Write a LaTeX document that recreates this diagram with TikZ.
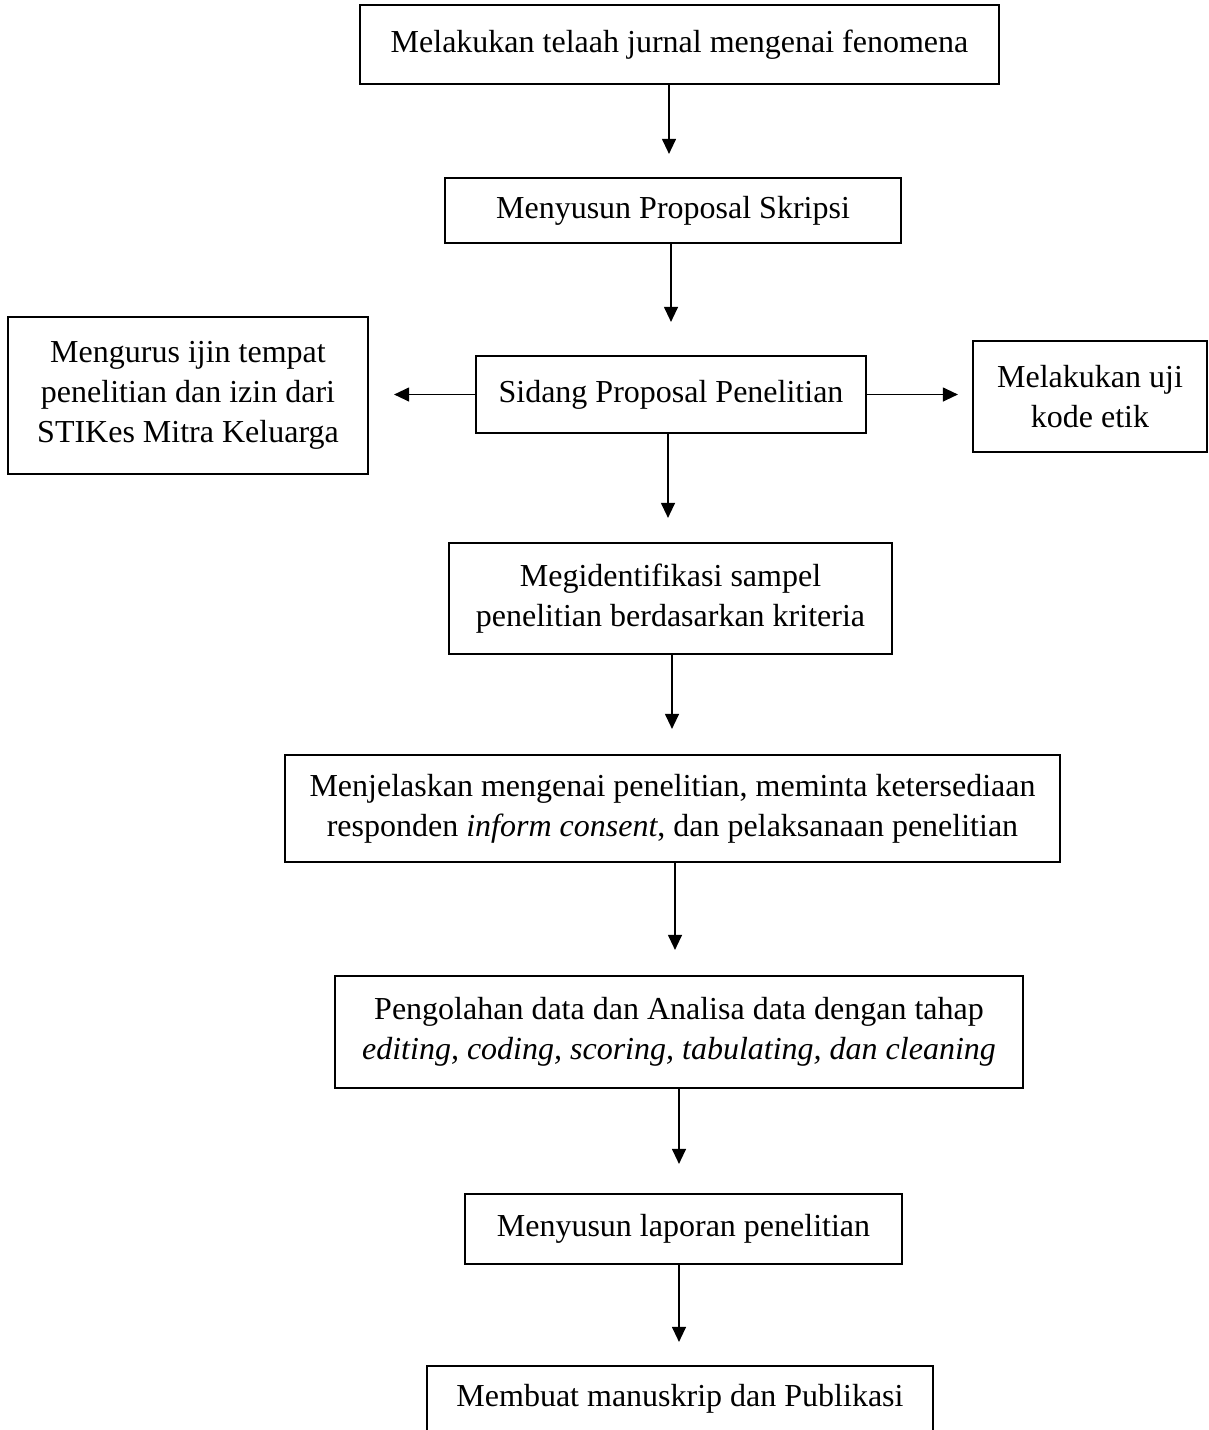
\documentclass[tikz,border=0pt]{standalone}
\usepackage{fontspec}
\setmainfont[Ligatures=CommonOff]{Liberation Serif}
\usetikzlibrary{arrows.meta}
\begin{document}
\begin{tikzpicture}[x=1pt,y=-1pt,
  box/.style={draw, line width=2.2pt, rectangle, inner sep=0pt, align=center,
    font=\fontsize{32}{40}\selectfont},
  arr/.style={line width=1.2pt, -{Triangle[length=15pt,width=14pt]}}]
\useasboundingbox (0,0) rectangle (1209,1430);
\clip (0,0) rectangle (1209,1430);

\node[box, minimum width=639pt, minimum height=79pt] (b1) at (679.5,44.5)
  {Melakukan telaah jurnal mengenai fenomena};
\node[box, minimum width=456pt, minimum height=65pt] (b2) at (673,210.5)
  {Menyusun Proposal Skripsi};
\node[box, minimum width=390pt, minimum height=77pt] (b3) at (671,394.5)
  {Sidang Proposal Penelitian};
\node[box, minimum width=360pt, minimum height=157pt] (bl) at (188,395.5)
  {Mengurus ijin tempat\\penelitian dan izin dari\\STIKes Mitra Keluarga};
\node[box, minimum width=234pt, minimum height=111pt] (br) at (1090,396.5)
  {Melakukan uji\\kode etik};
\node[box, minimum width=443pt, minimum height=111pt] (b4) at (670.5,598.5)
  {Megidentifikasi sampel\\penelitian berdasarkan kriteria};
\node[box, minimum width=775pt, minimum height=107pt] (b5) at (672.5,808.5)
  {Menjelaskan mengenai penelitian, meminta ketersediaan\\responden \textit{inform consent}, dan pelaksanaan penelitian};
\node[box, minimum width=688pt, minimum height=112pt] (b6) at (679,1032)
  {Pengolahan data dan Analisa data dengan tahap\\\textit{editing, coding, scoring, tabulating, dan cleaning}};
\node[box, minimum width=437pt, minimum height=70pt] (b7) at (683.5,1229)
  {Menyusun laporan penelitian};
\node[box, minimum width=506pt, minimum height=66pt] (b8) at (680,1399)
  {Membuat manuskrip dan Publikasi};

\draw[arr, shorten >=23pt] ([xshift=-10.5pt]b1.south) -- ([xshift=-10.5pt]b1.south |- b2.north);
\draw[arr, shorten >=33pt] ([xshift=-2pt]b2.south) -- ([xshift=-2pt]b2.south |- b3.north);
\draw[arr, shorten >=25pt] (b3.west) -- (b3.west -| bl.east);
\draw[arr, shorten >=14pt] (b3.east) -- (b3.east -| br.west);
\draw[arr, shorten >=24pt] ([xshift=-3pt]b3.south) -- ([xshift=-3pt]b3.south |- b4.north);
\draw[arr, shorten >=25pt] ([xshift=1.5pt]b4.south) -- ([xshift=1.5pt]b4.south |- b5.north);
\draw[arr, shorten >=25pt] ([xshift=2.5pt]b5.south) -- ([xshift=2.5pt]b5.south |- b6.north);
\draw[arr, shorten >=29pt] (b6.south) -- (b6.south |- b7.north);
\draw[arr, shorten >=23pt] ([xshift=-4.5pt]b7.south) -- ([xshift=-4.5pt]b7.south |- b8.north);
\end{tikzpicture}
\end{document}
